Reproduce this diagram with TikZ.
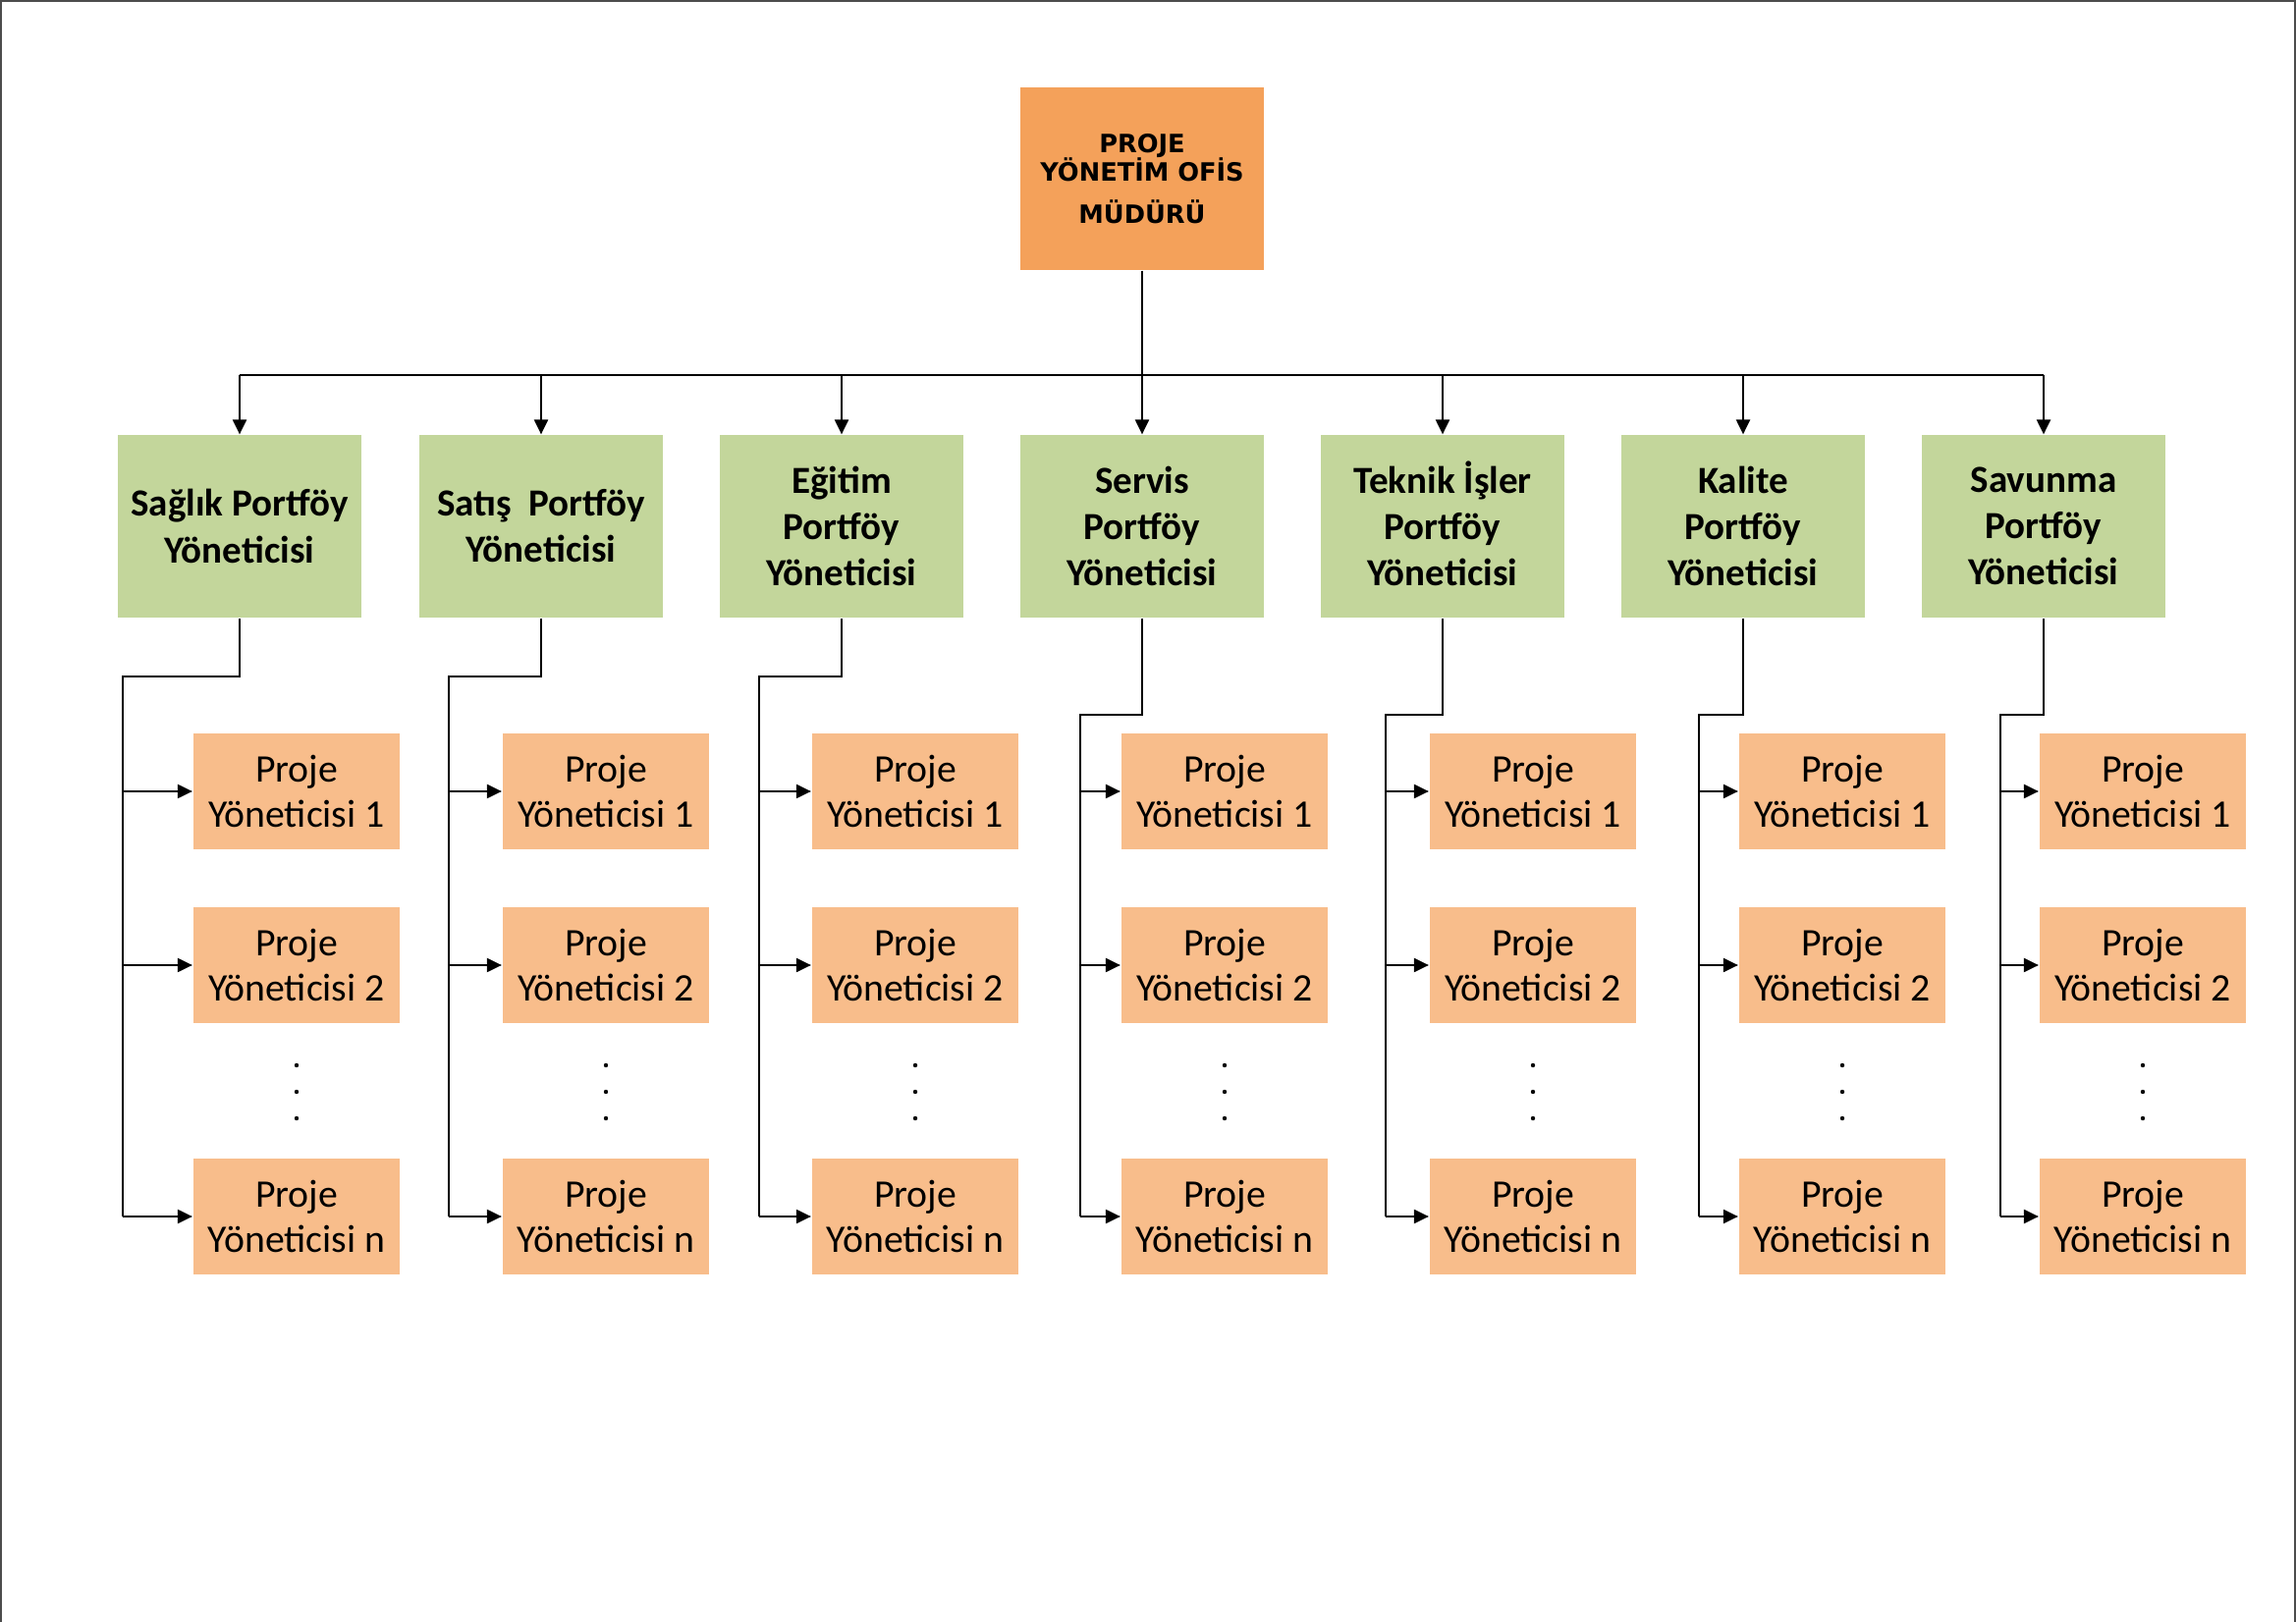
\documentclass[tikz,border=0pt]{standalone}
\usepackage{fontspec}
\setmainfont{Carlito}
\newfontfamily\headfont{DejaVu Sans}
\usetikzlibrary{arrows.meta,positioning,calc}
\definecolor{sandy}{HTML}{F4A15A}
\definecolor{sage}{HTML}{C3D69B}
\definecolor{peach}{HTML}{F8BD8B}
\colorlet{chief}{sandy}
\colorlet{lead}{sage}
\colorlet{pm}{peach}
\colorlet{frame}{black!70}

\begin{document}
\begin{tikzpicture}[x=0.01cm,y=-0.01cm,line width=0.6pt,
    chiefbox/.style={fill=chief,minimum width=2.48cm,minimum height=1.85cm,
        align=center,inner sep=0pt,font=\headfont\bfseries\fontsize{7.3}{8.3}\selectfont},
    leadbox/.style={fill=lead,minimum width=2.48cm,minimum height=1.85cm,
        align=center,inner sep=0pt,font=\bfseries\fontsize{11.1}{13.4}\selectfont},
    pmbox/.style={fill=pm,minimum width=2.1cm,minimum height=1.17cm,
        align=center,inner sep=0pt,font=\fontsize{11.3}{13.1}\selectfont},
    arr/.style={-{Triangle[length=0.15cm,width=0.14cm]}}]
    \useasboundingbox (0,0) rectangle (2338,1652);
    \draw[frame] (1,1652) -- (1,1) -- (2337,1) -- (2337,1652);

    \node[chiefbox] (pmo) at (1163,182) {PROJE\\YÖNETİM OFİS\\[3.7pt]MÜDÜRÜ};
    \coordinate (bus) at (1163,382);

    \foreach \i/\px/\lbl/\fx/\jy/\cx in {
        1/244/Sağlık Portföy\\Yöneticisi/125/689/302,
        2/551/Satış~ Portföy\\Yöneticisi/457/689/617,
        3/857/Eğitim\\Portföy\\Yöneticisi/773/689/932,
        4/1163/Servis\\Portföy\\Yöneticisi/1100/728/1247,
        5/1469/Teknik \smash{İ}şler\\Portföy\\Yöneticisi/1411/728/1561,
        6/1775/Kalite\\Portföy\\Yöneticisi/1730/728/1876,
        7/2081/Savunma\\Portföy\\Yöneticisi/2037/728/2182} {
        \node[leadbox] (p\i) at (\px,536) {\lbl};
        \node[pmbox] (c\i-1) at (\cx,806) {Proje\\Yöneticisi 1};
        \node[pmbox] (c\i-2) at (\cx,983) {Proje\\Yöneticisi 2};
        \node[pmbox] (c\i-n) at (\cx,1239) {Proje\\Yöneticisi n};
        \coordinate (f\i) at (\fx,\jy);
        \draw[arr] (p\i.north |- bus) -- (p\i.north);
        \draw (p\i.south) |- (f\i) -- (f\i |- c\i-n.west);
        \foreach \k in {1,2,n}
            \draw[arr] (f\i |- c\i-\k.west) -- (c\i-\k.west);
        \foreach \y in {1085,1112,1139}
            \fill (\cx,\y) circle (0.022cm);
    }
    \draw (pmo.south) -- (pmo.south |- bus);
    \draw (p1.north |- bus) -- (p7.north |- bus);
\end{tikzpicture}
\end{document}
